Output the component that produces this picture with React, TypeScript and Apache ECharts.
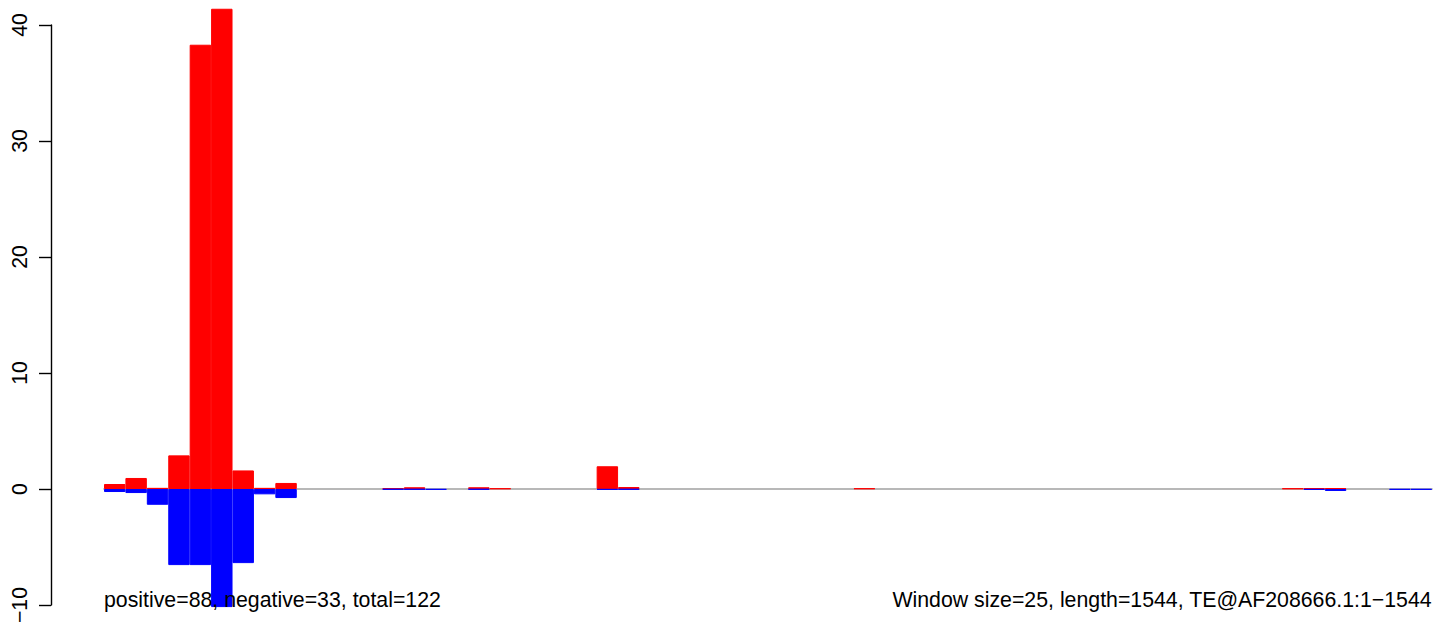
import React, { useEffect, useRef } from "react";
import * as echarts from "echarts";

const windows: string[] = Array.from({ length: 62 }, (_, i) => String(i + 1));

const positive: number[] = [
  0.43, 0.95, 0.1, 2.9, 38.3, 41.4, 1.6, 0.1, 0.52, 0, 0, 0, 0,
  0.05, 0.15, 0, 0, 0.15, 0.05, 0, 0, 0, 0, 1.96, 0.17, 0,
  0, 0, 0, 0, 0, 0, 0, 0, 0, 0.05, 0, 0, 0, 0, 0,
  0, 0, 0, 0, 0, 0, 0, 0, 0, 0, 0, 0, 0, 0, 0.05,
  0.07, 0.07, 0, 0, 0, 0,
];

const negative: number[] = [
  -0.26, -0.35, -1.36, -6.56, -6.56, -10.18, -6.39, -0.46, -0.78, 0, 0, 0, 0,
  -0.05, -0.05, -0.06, 0, -0.05, 0, 0, 0, 0, 0, -0.07, -0.05, 0,
  0, 0, 0, 0, 0, 0, 0, 0, 0, 0, 0, 0, 0, 0, 0,
  0, 0, 0, 0, 0, 0, 0, 0, 0, 0, 0, 0, 0, 0, 0,
  -0.07, -0.17, 0, 0, -0.06, -0.06,
];

const yTicks = { min: -10, max: 40, interval: 10 };
const leftNote = "positive=88, negative=33, total=122";
const rightNote = "Window size=25, length=1544, TE@AF208666.1:1\u22121544";

const FONT = "'Liberation Sans', Arial, Helvetica, sans-serif";

// Zero-height windows draw nothing (so their outline does not paint the zero line)
const toSeries = (vals: number[]) => vals.map((v) => (v === 0 ? "-" : v));

export default function App() {
  const ref = useRef<HTMLDivElement>(null);
  useEffect(() => {
    if (!ref.current) return;
    const chart = echarts.init(ref.current, null, { renderer: "svg" });
    chart.setOption({
      animation: false,
      backgroundColor: "#ffffff",
      grid: { left: 104, right: 12, top: 25, bottom: 23, containLabel: false },
      xAxis: {
        type: "category",
        data: windows,
        axisLine: { show: true, onZero: true, lineStyle: { color: "#a0a0a0", width: 1.6 } },
        axisTick: { show: false },
        axisLabel: { show: false },
        splitLine: { show: false },
      },
      yAxis: {
        type: "value",
        min: yTicks.min,
        max: yTicks.max,
        interval: yTicks.interval,
        offset: 53,
        axisLine: { show: true, lineStyle: { color: "#000", width: 1.4 } },
        axisTick: { show: true, length: 12, lineStyle: { color: "#000", width: 1.4 } },
        axisLabel: {
          rotate: 90,
          margin: 21,
          color: "#000",
          fontSize: 21.3,
          fontFamily: FONT,
          formatter: (v: number) => String(v).replace("-", "\u2212"),
        },
        splitLine: { show: false },
      },
      series: [
        {
          type: "bar",
          data: toSeries(positive),
          barCategoryGap: 0,
          barGap: "-100%",
          clip: false,
          itemStyle: { color: "#ff0000", borderColor: "#ff0000", borderWidth: 1 },
        },
        {
          type: "bar",
          data: toSeries(negative),
          barCategoryGap: 0,
          barGap: "-100%",
          clip: false,
          itemStyle: { color: "#0000ff", borderColor: "#0000ff", borderWidth: 1 },
        },
      ],
      graphic: [
        {
          type: "text",
          left: 104,
          top: 589,
          z: 100,
          style: { text: leftNote, fontSize: 21.3, fontFamily: FONT, fill: "#000" },
        },
        {
          type: "text",
          right: 12,
          top: 589,
          z: 100,
          style: { text: rightNote, fontSize: 21.3, fontFamily: FONT, fill: "#000" },
        },
      ],
    });
    return () => chart.dispose();
  }, []);
  return (
    <div
      ref={ref}
      style={{ position: "absolute", left: 0, top: 0, width: 1444, height: 628 }}
    />
  );
}
